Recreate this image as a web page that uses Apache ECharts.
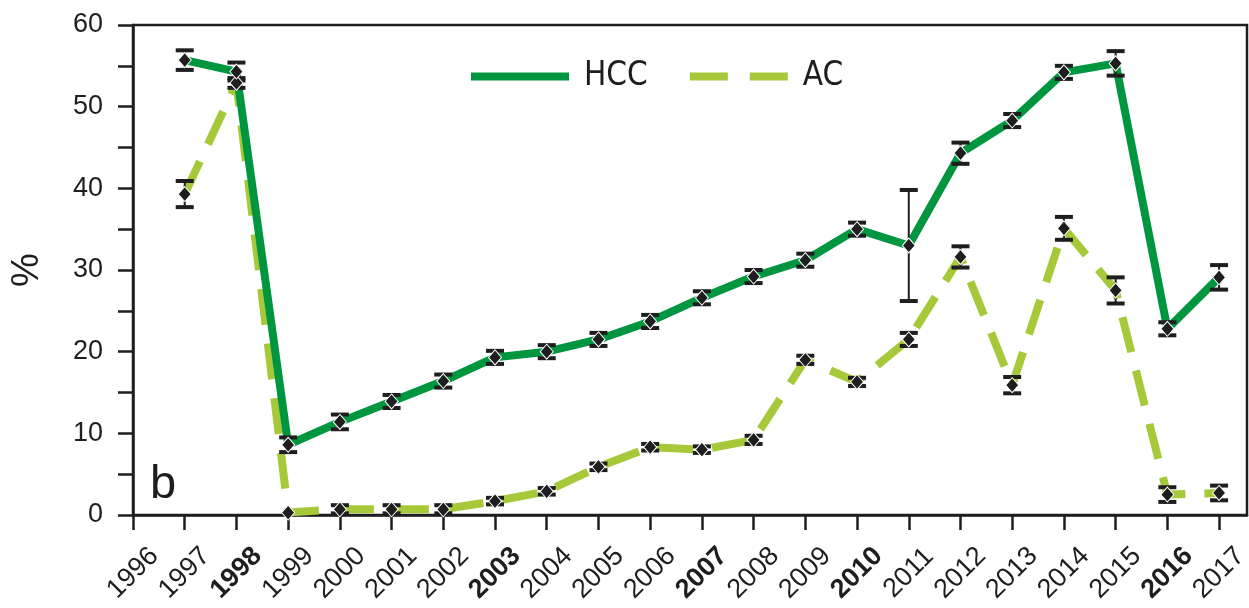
<!DOCTYPE html>
<html>
<head>
<meta charset="utf-8">
<script src="https://cdn.jsdelivr.net/npm/echarts@6/dist/echarts.min.js"></script>
<style>
html,body{margin:0;padding:0;background:#fff;}
#c{width:1249px;height:608px;}
</style>
</head>
<body>
<div id="c"></div>
<script>
var tickYears = [1996,1997,1998,1999,2000,2001,2002,2003,2004,2005,2006,2007,2008,2009,2010,2011,2012,2013,2014,2015,2016,2017];
var boldYears = [1998,2003,2007,2010,2016];
var years = [1997,1998,1999,2000,2001,2002,2003,2004,2005,2006,2007,2008,2009,2010,2011,2012,2013,2014,2015,2016,2017];
var hcc    = [55.7,54.3,8.6,11.4,13.9,16.4,19.3,20.0,21.5,23.7,26.6,29.2,31.2,35.0,33.0,44.3,48.3,54.2,55.3,22.8,29.1];
var hccErr = [1.2,1.1,0.9,0.9,0.8,0.8,0.8,0.8,0.8,0.8,0.8,0.8,0.8,0.8,6.8,1.3,0.8,0.8,1.5,0.8,1.5];
var ac     = [39.3,52.9,0.3,0.7,0.7,0.7,1.7,2.9,5.9,8.3,8.0,9.2,19.0,16.3,21.5,31.6,15.9,35.1,27.5,2.5,2.7];
var acErr  = [1.6,0.6,0,0.5,0.5,0.5,0.4,0.4,0.4,0.4,0.4,0.5,0.5,0.5,0.8,1.3,1.0,1.4,1.6,0.9,0.9];

var HCC_COLOR = '#00963F';
var AC_COLOR = '#A6C93A';
var INK = '#1E1E1E';
var FONT = "'Liberation Sans', Arial, sans-serif";
var NARROW = "'Liberation Sans Narrow', 'DejaVu Sans Condensed', 'Liberation Sans', sans-serif";

function pairs(vals){ return years.map(function(y,i){ return [y, vals[i]]; }); }
function errData(vals, errs){
  return years.map(function(y,i){ return [y, vals[i]-errs[i], vals[i]+errs[i]]; });
}
function renderErr(params, api){
  var lo = api.value(1), hi = api.value(2);
  if (hi - lo <= 0) return null;
  var x = api.value(0);
  var pLo = api.coord([x, lo]);
  var pHi = api.coord([x, hi]);
  var hw = 9;
  return {
    type: 'group',
    children: [
      {type:'line', shape:{x1:pLo[0], y1:pLo[1], x2:pHi[0], y2:pHi[1]}, style:{stroke:INK, lineWidth:2}},
      {type:'line', shape:{x1:pLo[0]-hw, y1:pLo[1], x2:pLo[0]+hw, y2:pLo[1]}, style:{stroke:INK, lineWidth:4}},
      {type:'line', shape:{x1:pHi[0]-hw, y1:pHi[1], x2:pHi[0]+hw, y2:pHi[1]}, style:{stroke:INK, lineWidth:4}}
    ]
  };
}

var chart = echarts.init(document.getElementById('c'), null, {renderer:'canvas'});
chart.setOption({
  animation: false,
  backgroundColor: '#fff',
  grid: {left:133, right:2, top:25, bottom:93, show:true, borderColor:INK, borderWidth:2.5,
         backgroundColor:'transparent', containLabel:false, outerBoundsMode:'none'},
  legend: {
    show: true,
    data: [
      {name:'HCC'},
      {name:'AC', lineStyle:{type:[38,22]}}
    ],
    left: 467, top: 60, padding: 0,
    itemWidth: 98, itemHeight: 10, itemGap: 38,
    lineStyle: {width: 8},
    itemStyle: {opacity: 0},
    textStyle: {fontSize:33, color:INK, fontFamily:NARROW, padding:[0,0,0,10]}
  },
  xAxis: {
    type: 'value', min: 1996, max: 2017.54,
    axisLine: {show:true, onZero:false, lineStyle:{color:INK, width:2.5}},
    axisTick: {show:true, length:15, customValues: tickYears, lineStyle:{color:INK, width:2.5}},
    splitLine: {show:false},
    axisLabel: {
      customValues: tickYears,
      rotate: 45, margin: 58, align:'center', verticalAlign:'middle',
      formatter: function(v){ return boldYears.indexOf(v) >= 0 ? '{b|' + v + '}' : '{n|' + v + '}'; },
      rich: {
        n: {fontSize:27, color:INK, fontFamily:FONT},
        b: {fontSize:27, color:INK, fontFamily:FONT, fontWeight:'bold'}
      }
    }
  },
  yAxis: {
    type: 'value', min: 0, max: 60, interval: 10,
    name: '%', nameLocation: 'middle', nameGap: 86, nameRotate: 90,
    nameTextStyle: {fontSize:38, color:INK, fontFamily:FONT},
    axisLine: {show:true, lineStyle:{color:INK, width:2.5}},
    axisTick: {show:true, length:15, lineStyle:{color:INK, width:2.5}},
    minorTick: {show:true, splitNumber:2, length:15, lineStyle:{color:INK, width:2.5}},
    splitLine: {show:false},
    axisLabel: {fontSize:27, color:INK, fontFamily:FONT, margin:30}
  },
  graphic: [
    {type:'text', left:150, top:462, style:{text:'b', fontSize:47, fill:INK, fontFamily:FONT}}
  ],
  series: [
    {name:'AC', type:'line', data: pairs(ac), symbol:'none', z:2,
     lineStyle:{color:AC_COLOR, width:8, type:[36,19]}, itemStyle:{color:AC_COLOR}},
    {name:'HCC', type:'line', data: pairs(hcc), symbol:'none', z:3,
     lineStyle:{color:HCC_COLOR, width:8}, itemStyle:{color:HCC_COLOR}},
    {name:'acErr', type:'custom', data: errData(ac, acErr), renderItem: renderErr, z:4, encode:{x:0, y:[1,2]}},
    {name:'hccErr', type:'custom', data: errData(hcc, hccErr), renderItem: renderErr, z:4, encode:{x:0, y:[1,2]}},
    {name:'acPts', type:'scatter', data: pairs(ac), symbol:'diamond', symbolSize:[13,15], z:5,
     itemStyle:{color:INK, borderColor:'#fff', borderWidth:1, opacity:1}},
    {name:'hccPts', type:'scatter', data: pairs(hcc), symbol:'diamond', symbolSize:[13,15], z:5,
     itemStyle:{color:INK, borderColor:'#fff', borderWidth:1, opacity:1}}
  ]
});
</script>
</body>
</html>
